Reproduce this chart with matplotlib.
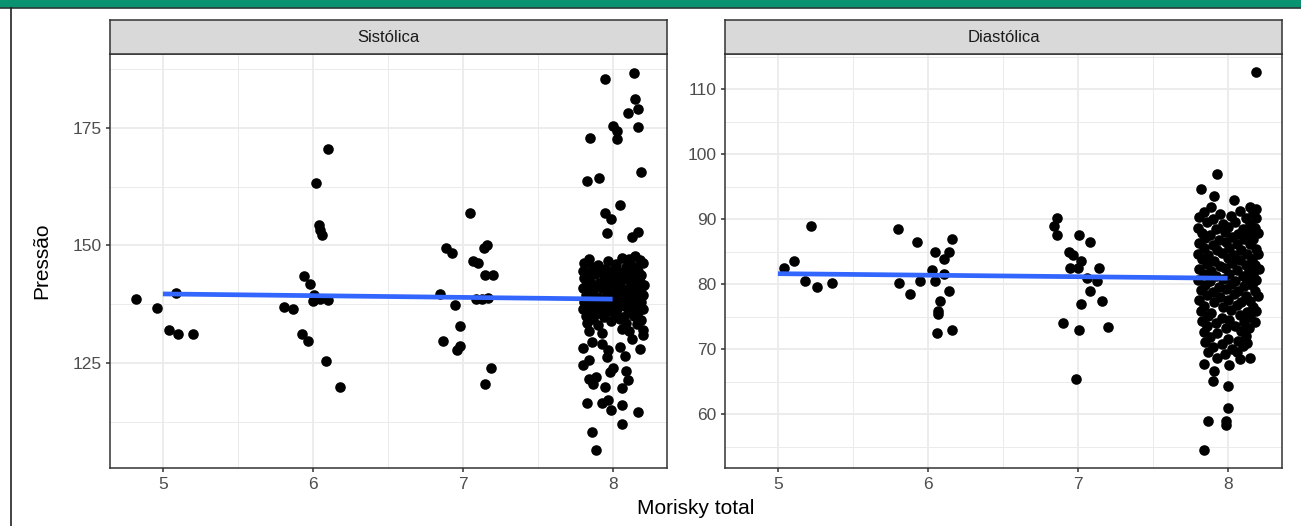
import numpy as np
import matplotlib.pyplot as plt
from matplotlib.patches import Rectangle
from matplotlib.lines import Line2D

plt.rcParams['font.family'] = ['Liberation Sans', 'DejaVu Sans']

####################
# DATA
####################
panel_titles = ['Sistólica', 'Diastólica']

# Sistólica, jittered points by Morisky score
sis_x5 = [4.82, 4.96, 5.04, 5.09, 5.10, 5.20]
sis_y5 = [138.7, 136.8, 132.1, 139.8, 131.1, 131.1]
sis_x6 = [6.02, 6.04, 6.05, 6.06, 6.10, 5.94, 5.98, 5.81, 5.87, 6.00, 6.01,
          6.05, 6.10, 5.93, 5.97, 6.09, 6.18]
sis_y6 = [163.2, 154.3, 153.2, 152.3, 170.6, 143.6, 141.9, 137.0, 136.6,
          138.1, 139.4, 138.7, 138.5, 131.1, 129.6, 125.5, 120.0]
sis_x7 = [7.05, 6.89, 6.93, 7.07, 7.10, 7.16, 7.14, 7.15, 7.20, 6.85, 7.09,
          7.13, 7.17, 6.95, 6.98, 6.87, 6.98, 6.96, 7.19, 7.15]
sis_y7 = [156.8, 149.4, 148.5, 146.6, 146.2, 150.2, 149.4, 143.8, 143.8,
          139.6, 138.7, 138.7, 138.9, 137.4, 132.8, 129.6, 128.7, 127.7,
          124.0, 120.6]
sis_x8 = [8.14, 7.95, 8.15, 8.17, 8.10, 8.00, 8.03, 8.03, 8.17, 7.85, 8.19,
          7.83, 7.91, 8.05, 7.95, 7.99, 7.96, 8.17, 8.13, 8.15, 8.11,
          7.89, 7.86, 8.06, 8.17, 7.83, 7.93, 7.97, 7.99, 8.06, 7.95, 8.06,
          7.87, 7.84, 7.89, 8.10, 8.09, 7.98, 8.00, 7.80, 7.84, 7.96, 8.08,
          7.97, 7.80, 8.05, 8.18, 7.86, 7.93, 8.13, 8.20, 7.93, 8.06, 8.11,
          7.84, 8.20,
          7.84, 7.97, 8.06, 8.18,
          7.81, 7.90, 8.02, 8.12, 8.20,
          7.86, 7.95, 8.09, 8.15,
          7.80, 7.92, 8.00, 8.05, 8.17,
          7.83, 7.88, 7.98, 8.11, 8.19,
          7.81, 7.94, 8.03, 8.08, 8.14,
          7.85, 7.91, 8.00, 8.12, 8.18,
          7.82, 7.89, 7.97, 8.05, 8.16, 8.21,
          7.80, 7.87, 7.93, 8.02, 8.10, 8.19,
          7.84, 7.96, 8.04, 8.13, 8.17,
          7.82, 7.90, 7.99, 8.07, 8.15, 8.20,
          7.86, 7.93, 8.01, 8.11, 8.18,
          7.81, 7.88, 7.97, 8.04, 8.14, 8.19,
          7.84, 7.92, 8.00, 8.08, 8.16,
          7.80, 7.89, 7.95, 8.03, 8.12, 8.20,
          7.85, 7.91, 7.98, 8.10, 8.17,
          7.82, 7.94, 8.02, 8.07, 8.14,
          7.87, 7.99, 8.05, 8.19,
          7.83, 7.90, 8.09, 8.16]
sis_y8 = [186.6, 185.3, 181.1, 179.1, 178.1, 175.3, 174.3, 172.6, 175.1,
          172.8, 165.7, 163.6, 164.3, 158.7, 157.0, 155.7, 152.6, 152.8,
          151.7, 147.7, 147.2,
          106.6, 110.4, 112.1, 114.5, 116.6, 116.6, 117.2, 115.1, 116.0,
          120.0, 119.6, 120.6, 121.7, 122.1, 121.3, 123.4, 123.2, 124.0,
          124.7, 125.7, 126.2, 126.6, 127.7, 128.3, 128.5, 128.1, 129.4,
          129.1, 130.2, 130.9, 131.5, 132.3, 131.9, 131.9, 132.1,
          147.1, 146.8, 147.3, 146.9,
          146.2, 145.9, 146.1, 145.8, 146.3,
          145.4, 145.1, 145.5, 145.2,
          144.6, 144.3, 144.7, 144.4, 144.5,
          143.7, 144.0, 143.6, 143.9, 143.8,
          143.1, 142.8, 143.2, 142.9, 143.0,
          142.3, 142.0, 142.4, 142.1, 142.2,
          141.6, 141.3, 141.7, 141.4, 141.5, 141.6,
          140.9, 140.6, 141.0, 140.7, 140.8, 140.9,
          140.1, 139.8, 140.2, 139.9, 140.0,
          139.4, 139.1, 139.5, 139.2, 139.3, 139.4,
          138.7, 138.4, 138.8, 138.5, 138.6,
          138.0, 137.7, 138.1, 137.8, 137.9, 138.0,
          137.3, 137.0, 137.4, 137.1, 137.2,
          136.6, 136.3, 136.7, 136.4, 136.5, 136.6,
          135.9, 135.6, 136.0, 135.7, 135.8,
          135.1, 134.8, 135.2, 134.9, 135.0,
          134.3, 134.0, 134.4, 134.1,
          133.5, 133.2, 133.6, 133.3]

# Diastólica
dia_x5 = [5.04, 5.11, 5.22, 5.18, 5.26, 5.36]
dia_y5 = [82.5, 83.5, 89.0, 80.5, 79.6, 80.1]
dia_x6 = [5.80, 5.93, 6.16, 6.05, 6.14, 6.11, 6.03, 6.11, 5.81, 5.95, 6.05,
          5.88, 6.14, 6.08, 6.07, 6.07, 6.16, 6.06]
dia_y6 = [88.5, 86.5, 87.0, 85.0, 85.0, 83.9, 82.1, 81.5, 80.1, 80.4, 80.4,
          78.5, 79.0, 77.4, 75.9, 75.4, 72.9, 72.5]
dia_x7 = [6.86, 6.84, 6.86, 7.01, 7.08, 6.94, 6.97, 7.02, 6.95, 7.00, 7.14,
          7.06, 7.13, 7.08, 7.02, 7.16, 6.90, 7.01, 7.20, 6.99]
dia_y7 = [90.1, 89.0, 87.5, 87.5, 86.4, 85.0, 84.4, 83.5, 82.5, 82.5, 82.5,
          81.0, 80.4, 79.0, 77.0, 77.4, 74.0, 72.9, 73.4, 65.4]
dia_x8 = [8.19, 7.93, 7.82, 7.91, 7.89, 8.04, 8.15, 8.19,
          7.84, 7.87, 7.99, 7.99, 8.00, 8.00, 7.90,
          7.84, 7.95, 8.08, 8.17,
          7.81, 7.90, 8.02, 8.12, 8.19,
          7.86, 7.97, 8.05, 8.15,
          7.80, 7.92, 8.00, 8.10, 8.18,
          7.83, 7.88, 7.98, 8.07, 8.14, 8.20,
          7.85, 7.94, 8.03, 8.11, 8.17,
          7.81, 7.90, 7.99, 8.06, 8.15,
          7.84, 7.93, 8.01, 8.09, 8.19,
          7.80, 7.87, 7.96, 8.04, 8.13, 8.20,
          7.83, 7.91, 8.00, 8.08, 8.16,
          7.86, 7.95, 8.03, 8.12, 8.18,
          7.81, 7.89, 7.98, 8.06, 8.14, 8.21,
          7.84, 7.92, 8.01, 8.10, 8.17,
          7.80, 7.88, 7.97, 8.05, 8.13, 8.19,
          7.85, 7.94, 8.02, 8.11, 8.16,
          7.82, 7.90, 7.99, 8.07, 8.18,
          7.86, 7.95, 8.04, 8.12, 8.20,
          7.81, 7.91, 8.00, 8.09, 8.15,
          7.84, 7.97, 8.06, 8.17,
          7.82, 7.89, 8.02, 8.13, 8.19,
          7.87, 7.96, 8.08, 8.15,
          7.83, 7.92, 8.01, 8.11, 8.18,
          7.86, 7.99, 8.05, 8.14,
          7.84, 7.93, 8.09,
          7.88, 8.00, 8.12,
          7.85, 7.96, 8.07, 8.13,
          7.90, 8.03, 8.10,
          7.87, 7.98, 8.06,
          7.93, 8.08, 8.15,
          7.84, 8.01,
          7.91]
dia_y8 = [112.6, 97.0, 94.6, 93.5, 91.9, 93.0, 91.9, 91.6,
          54.4, 58.9, 58.9, 58.3, 61.0, 64.3, 65.1,
          91.1, 90.8, 91.2, 90.9,
          90.3, 90.0, 90.4, 90.1, 90.2,
          89.5, 89.2, 89.6, 89.3,
          88.7, 88.4, 88.8, 88.5, 88.6,
          87.9, 87.6, 88.0, 87.7, 87.8, 87.9,
          87.1, 86.8, 87.2, 86.9, 87.0,
          86.3, 86.0, 86.4, 86.1, 86.2,
          85.5, 85.2, 85.6, 85.3, 85.4,
          84.7, 84.4, 84.8, 84.5, 84.6, 84.7,
          83.9, 83.6, 84.0, 83.7, 83.8,
          83.1, 82.8, 83.2, 82.9, 83.0,
          82.3, 82.0, 82.4, 82.1, 82.2, 82.3,
          81.5, 81.2, 81.6, 81.3, 81.4,
          80.7, 80.4, 80.8, 80.5, 80.6, 80.7,
          79.9, 79.6, 80.0, 79.7, 79.8,
          79.1, 78.8, 79.2, 78.9, 79.0,
          78.3, 78.0, 78.4, 78.1, 78.2,
          77.5, 77.2, 77.6, 77.3, 77.4,
          76.7, 76.4, 76.8, 76.5,
          75.9, 75.6, 76.0, 75.7, 75.8,
          75.1, 74.8, 75.2, 74.9,
          74.3, 74.0, 74.4, 74.1, 74.2,
          73.5, 73.2, 73.6, 73.3,
          72.7, 72.4, 72.8,
          71.9, 71.6, 72.0,
          71.1, 70.8, 71.2, 70.9,
          70.3, 70.0, 70.4,
          69.5, 69.2, 69.6,
          68.7, 68.4, 68.6,
          67.7, 67.5,
          66.6]

# linear fit (geom_smooth, method = lm) end points
fit_x = [5, 8]
fit_sis = [139.7, 138.6]
fit_dia = [81.6, 80.9]

x_ticks = [5, 6, 7, 8]
sis_ticks = [125, 150, 175]
dia_ticks = [60, 70, 80, 90, 100, 110]

####################
# STYLE
####################
W, H = 1301, 526
grid_col = '#EBEBEB'
border_col = '#333333'
tick_txt = '#4D4D4D'
strip_fill = '#D9D9D9'
fit_col = '#3366FF'


def fx(px):
    return px / W


def fy(px):
    return 1 - px / H


fig = plt.figure(figsize=(W / 100, H / 100), dpi=100)

# green band on top and frame line on the left
fig.patches.append(Rectangle((0, fy(8)), 1, 8 / H, transform=fig.transFigure,
                             facecolor='#0A9370', edgecolor='none'))
fig.lines.append(Line2D([0, 1], [fy(8), fy(8)], transform=fig.transFigure,
                        color='#2B3B35', lw=1.2))
fig.lines.append(Line2D([fx(11), fx(11)], [0, fy(8)],
                        transform=fig.transFigure, color='#222222', lw=1.2))

panels = [
    (110, 667, sis_x5 + sis_x6 + sis_x7 + sis_x8,
     sis_y5 + sis_y6 + sis_y7 + sis_y8, fit_sis, sis_ticks,
     (102.7, 190.7), [112.5, 137.5, 162.5, 187.5]),
    (725, 1282, dia_x5 + dia_x6 + dia_x7 + dia_x8,
     dia_y5 + dia_y6 + dia_y7 + dia_y8, fit_dia, dia_ticks,
     (51.7, 115.4), [55, 65, 75, 85, 95, 105, 115]),
]

top, bottom, strip_top = 54, 468, 20
for i, (x0, x1, xs, ys, fit, yticks, ylim, yminor) in enumerate(panels):
    ax = fig.add_axes([fx(x0), fy(bottom), (x1 - x0) / W, (bottom - top) / H])
    ax.set_facecolor('white')
    ax.scatter(xs, ys, s=58, color='black', linewidths=0, zorder=3)
    ax.plot(fit_x, fit, color=fit_col, lw=3.4, zorder=4,
            solid_capstyle='butt')

    ax.set_xlim(4.647, 8.363)
    ax.set_ylim(*ylim)
    ax.set_xticks(x_ticks)
    ax.set_xticks([5.5, 6.5, 7.5], minor=True)
    ax.set_yticks(yticks)
    ax.set_yticks(yminor, minor=True)
    ax.grid(which='major', color=grid_col, lw=1.3, zorder=0)
    ax.grid(which='minor', color=grid_col, lw=0.7, zorder=0)
    ax.set_axisbelow(True)
    ax.tick_params(which='major', length=3.2, width=1.1, color=border_col,
                   labelcolor=tick_txt, labelsize=12.5, pad=3)
    ax.tick_params(which='minor', length=0)
    for sp in ax.spines.values():
        sp.set_color(border_col)
        sp.set_linewidth(1.1)

    # facet strip
    sax = fig.add_axes([fx(x0), fy(top), (x1 - x0) / W, (top - strip_top) / H])
    sax.set_facecolor(strip_fill)
    sax.set_xticks([])
    sax.set_yticks([])
    for sp in sax.spines.values():
        sp.set_color(border_col)
        sp.set_linewidth(1.1)
    sax.text(0.5, 0.5, panel_titles[i], ha='center', va='center',
             fontsize=12, color='#1A1A1A', transform=sax.transAxes)

fig.text(fx(42), fy(261), 'Pressão', rotation=90, ha='center', va='center',
         fontsize=15, color='black')
fig.text(fx(696), fy(509), 'Morisky total', ha='center', va='center',
         fontsize=15, color='black')

fig.savefig('out.png', dpi=100)
